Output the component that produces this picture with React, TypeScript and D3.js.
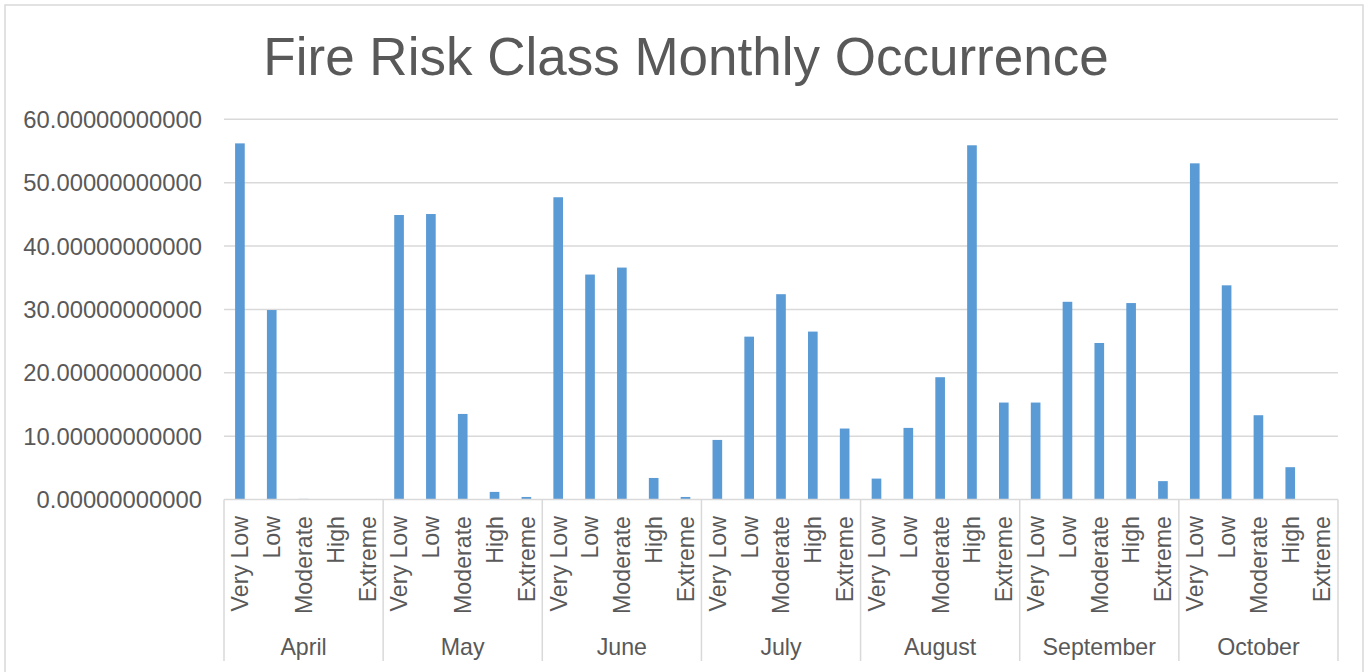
import React from 'react'
import * as d3 from 'd3'

const months = ['April', 'May', 'June', 'July', 'August', 'September', 'October']
const classes = ['Very Low', 'Low', 'Moderate', 'High', 'Extreme']

// occurrence per class, one array per month (same order as classes)
const april = [56.2, 29.9, 0.1, 0, 0]
const may = [44.9, 45.05, 13.5, 1.2, 0.4]
const june = [47.7, 35.5, 36.6, 3.4, 0.4]
const july = [9.4, 25.7, 32.4, 26.5, 11.2]
const august = [3.3, 11.3, 19.3, 55.9, 15.3]
const september = [15.3, 31.2, 24.7, 31.0, 2.9]
const october = [53.05, 33.8, 13.3, 5.1, 0]

const monthValues = [april, may, june, july, august, september, october]
const yTicks = [0, 10, 20, 30, 40, 50, 60]

const W = 1371
const H = 672
const plot = { left: 224, right: 1338, top: 119.3, bottom: 499.5 }
const textColor = '#595959'
const lineColor = '#d9d9d9'
const barColor = '#5b9bd5'
const font = '"Liberation Sans", Arial, sans-serif'

export default function App() {
  const x0 = d3.scaleBand<string>().domain(months).range([plot.left, plot.right]).padding(0)
  const x1 = d3.scaleBand<string>().domain(classes).range([0, x0.bandwidth()]).padding(0)
  const y = d3.scaleLinear().domain([0, 60]).range([plot.bottom, plot.top])
  const barW = x1.bandwidth() * 0.303

  const rows = months.flatMap((m, i) =>
    classes.map((c, j) => ({ month: m, cls: c, value: monthValues[i][j] }))
  )

  return (
    <div style={{ position: 'absolute', left: 0, top: 0 }}>
      <svg width={W} height={H} style={{ display: 'block', background: '#fff' }} fontFamily={font}>
        <rect x={5} y={5} width={1358} height={H + 10} fill="#fff" stroke={lineColor} strokeWidth={1.5} />

        <text x={686} y={75} textAnchor="middle" fontSize={53} fill={textColor}>
          Fire Risk Class Monthly Occurrence
        </text>

        {yTicks.map(t => (
          <g key={t}>
            {t > 0 && (
              <line x1={plot.left} x2={plot.right} y1={y(t)} y2={y(t)} stroke={lineColor} strokeWidth={1.5} />
            )}
            <text x={202} y={y(t)} dy="0.36em" textAnchor="end" fontSize={23.8} fill={textColor}>
              {t.toFixed(11)}
            </text>
          </g>
        ))}

        {rows.map(d => {
          const cx = (x0(d.month) ?? 0) + (x1(d.cls) ?? 0) + x1.bandwidth() / 2
          return (
            <rect
              key={d.month + d.cls}
              x={cx - barW / 2}
              y={y(d.value)}
              width={barW}
              height={plot.bottom - y(d.value)}
              fill={barColor}
            />
          )
        })}

        <line x1={plot.left} x2={plot.right} y1={plot.bottom} y2={plot.bottom} stroke={lineColor} strokeWidth={1.5} />
        {[...months.map(m => x0(m) ?? 0), plot.right].map((bx, i) => (
          <line key={i} x1={bx} x2={bx} y1={plot.bottom} y2={661} stroke={lineColor} strokeWidth={1.5} />
        ))}

        {rows.map(d => {
          const cx = (x0(d.month) ?? 0) + (x1(d.cls) ?? 0) + x1.bandwidth() / 2
          return (
            <text
              key={'l' + d.month + d.cls}
              transform={`translate(${cx},516) rotate(-90)`}
              dy="0.36em"
              textAnchor="end"
              fontSize={23.2}
              fill={textColor}
            >
              {d.cls}
            </text>
          )
        })}

        {months.map(m => (
          <text
            key={'m' + m}
            x={(x0(m) ?? 0) + x0.bandwidth() / 2}
            y={655}
            textAnchor="middle"
            fontSize={23.2}
            fill={textColor}
          >
            {m}
          </text>
        ))}
      </svg>
    </div>
  )
}
